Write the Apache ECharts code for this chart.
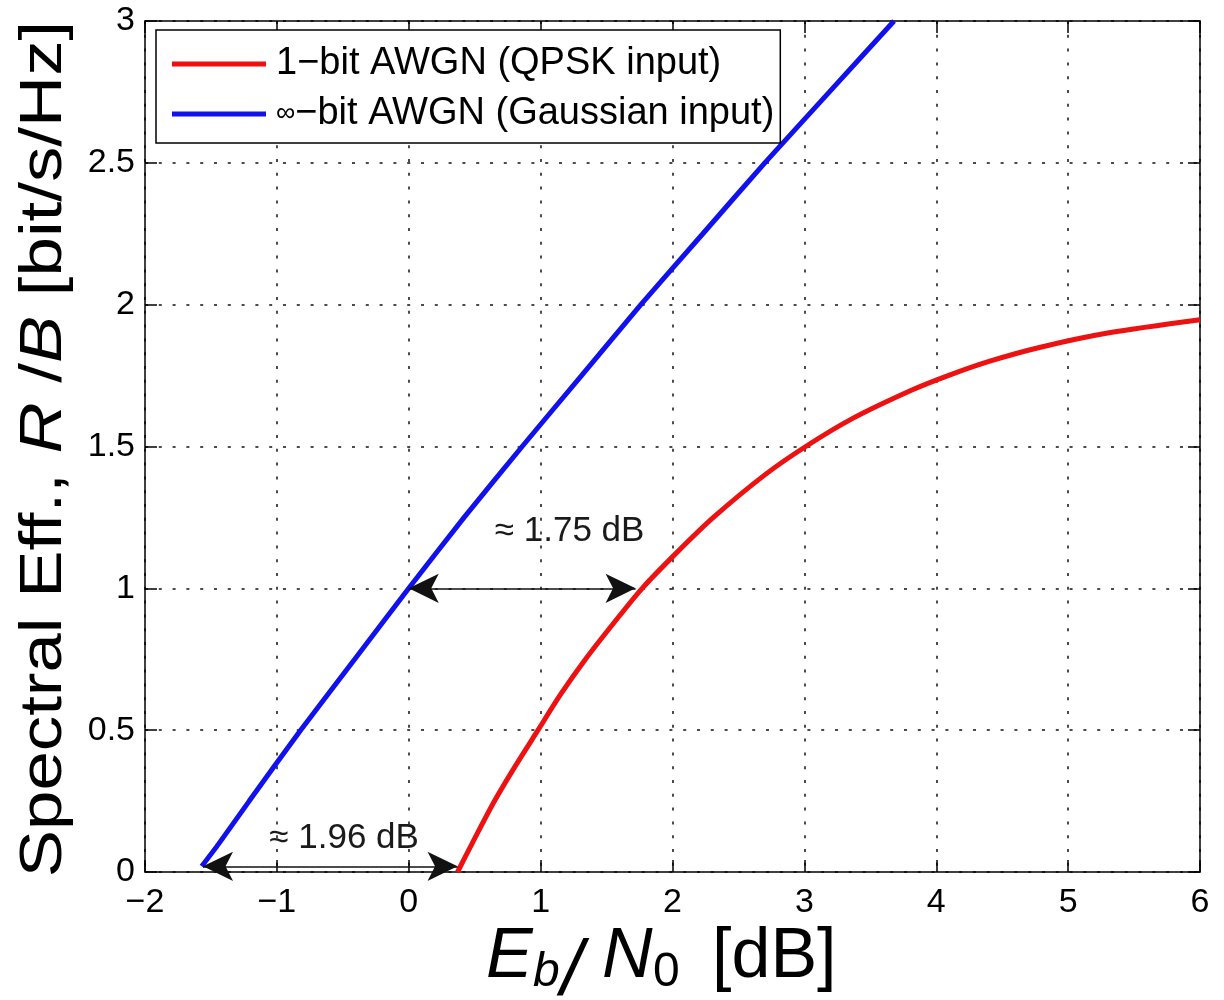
<!DOCTYPE html>
<html><head><meta charset="utf-8">
<script src="https://cdn.jsdelivr.net/npm/echarts@6/dist/echarts.min.js"></script>
<style>html,body{margin:0;padding:0;background:#fff}#c{width:1224px;height:1000px}</style>
</head><body><div id="c"></div>
<script>
// ---- data ----
const seriesNames = ['1\u2212bit AWGN (QPSK input)', '\u221E\u2212bit AWGN (Gaussian input)'];
const qpskEbN0 = [0.37, 0.48, 0.65, 0.81, 0.98, 1.15, 1.34, 1.55, 1.77, 2.03, 2.31, 2.70, 3.01, 3.37, 3.82, 4.09, 4.40, 4.79, 5.30, 6.00];
const qpskRate = [0.00, 0.10, 0.25, 0.375, 0.50, 0.625, 0.75, 0.875, 1.00, 1.125, 1.25, 1.40, 1.50, 1.60, 1.70, 1.75, 1.80, 1.85, 1.90, 1.947];
const gaussEbN0 = [-1.57, -1.44, -1.21, -0.82, -0.41, 0.00, 0.42, 0.86, 1.31, 1.76, 2.23, 2.70, 3.19, 3.68];
const gaussRate = [0.02, 0.10, 0.25, 0.50, 0.75, 1.00, 1.25, 1.50, 1.75, 2.00, 2.25, 2.50, 2.75, 3.00];
const arrowStart = [[0.00, 1.00], [-1.56, 0.02]];
const arrowEnd = [[1.72, 1.00], [0.37, 0.02]];
const noteText = ['\u2248 1.75 dB', '\u2248 1.96 dB'];
const notePos = [[1.22, 1.20], [-0.49, 0.12]];
const xRange = [-2, 6, 1];
const yRange = [0, 3, 0.5];

const FONT = '"Liberation Sans", Arial, Helvetica, sans-serif';
const zip = (a, b) => a.map((v, i) => [v, b[i]]);
const fmt = v => String(v).replace('-', '\u2212');

const chart = echarts.init(document.getElementById('c'), null, {renderer: 'canvas'});
const axisLine = {show: true, onZero: false, lineStyle: {color: '#000', width: 1.5}};
const tick = {show: true, inside: true, length: 12, lineStyle: {color: '#000', width: 1.5}};
const grid = {show: true, lineStyle: {color: '#111', width: 1.5, type: [3, 10.8]}};

const txt = (x, y, text, font, extra) => Object.assign({type: 'text', x, y, silent: true,
  style: {text, font: font + ' ' + FONT, fill: '#000', align: 'left', verticalAlign: 'middle'}}, extra || {});

chart.setOption({
  animation: false,
  backgroundColor: '#fff',
  grid: {left: 145, right: 24, top: 21, bottom: 128, containLabel: false},
  xAxis: [
    {type: 'value', min: xRange[0], max: xRange[1], interval: xRange[2], position: 'bottom',
     axisLine, axisTick: tick, splitLine: grid,
     axisLabel: {fontFamily: FONT, fontSize: 34, color: '#000', margin: 14, formatter: fmt}},
    {type: 'value', min: xRange[0], max: xRange[1], interval: xRange[2], position: 'top',
     axisLine, axisTick: tick, splitLine: {show: false}, axisLabel: {show: false}}
  ],
  yAxis: [
    {type: 'value', min: yRange[0], max: yRange[1], interval: yRange[2], position: 'left',
     axisLine, axisTick: tick, splitLine: grid,
     axisLabel: {fontFamily: FONT, fontSize: 34, color: '#000', margin: 10, formatter: v => String(v)}},
    {type: 'value', min: yRange[0], max: yRange[1], interval: yRange[2], position: 'right',
     axisLine, axisTick: tick, splitLine: {show: false}, axisLabel: {show: false}}
  ],
  legend: {
    data: seriesNames, orient: 'vertical', left: 156, top: 30,
    padding: [15, 6, 10, 16], itemGap: 12, itemWidth: 94, itemHeight: 5, icon: 'rect',
    borderColor: '#000', borderWidth: 1.5, backgroundColor: '#fff',
    textStyle: {fontFamily: FONT, fontSize: 38, color: '#000', padding: [0, 0, 0, 5],
      rich: {s: {fontFamily: FONT, fontSize: 27, color: '#000'}}},
    formatter: n => n.charAt(0) === '\u221E' ? '{s|\u221E}' + n.slice(1) : n
  },
  series: [
    {name: seriesNames[0], type: 'line', data: zip(qpskEbN0, qpskRate), symbol: 'none', smooth: 0.3,
     lineStyle: {color: '#ee1111', width: 5}, itemStyle: {color: '#ee1111'}, z: 3},
    {name: seriesNames[1], type: 'line', data: zip(gaussEbN0, gaussRate), symbol: 'none', smooth: 0.2,
     lineStyle: {color: '#1111ee', width: 5}, itemStyle: {color: '#1111ee'}, z: 3,
     markLine: {
       silent: true, symbol: ['arrow', 'arrow'], symbolSize: [22, 30], animation: false,
       label: {show: false},
       lineStyle: {color: '#111', width: 1.5, type: 'solid'},
       data: arrowStart.map((s, i) => [{coord: s}, {coord: arrowEnd[i]}])
     }}
  ]
});

// annotation texts placed through the grid's own scales
const notes = notePos.map((p, i) => {
  const px = chart.convertToPixel({gridIndex: 0}, p);
  return {type: 'text', x: px[0], y: px[1], silent: true, z: 10,
    style: {text: noteText[i], font: '35px ' + FONT, fill: '#1a1a1a', align: 'center', verticalAlign: 'middle'}};
});

chart.setOption({graphic: [
  {type: 'text', x: 44, y: 449, rotation: Math.PI / 2, scaleX: 1.18, scaleY: 1, silent: true,
   style: {text: '{n|Spectral Eff., }{i|R}{n| /}{i|B}{n| [bit/s/Hz]}', font: '60px ' + FONT,
     fill: '#000', align: 'center', verticalAlign: 'middle',
     rich: {n: {fontFamily: FONT, fontSize: 60, fontStyle: 'normal', fill: '#000', color: '#000'},
            i: {fontFamily: FONT, fontSize: 60, fontStyle: 'italic', fill: '#000', color: '#000'}}}},
  txt(486, 958, 'E', 'italic 70px'),
  txt(533, 973, 'b', 'italic 48px'),
  txt(561, 973, '/', 'italic 78px'),
  txt(602, 958, 'N', 'italic 70px'),
  txt(653, 973, '0', '48px'),
  txt(712, 958, '[dB]', '70px')
].concat(notes)});
</script></body></html>
